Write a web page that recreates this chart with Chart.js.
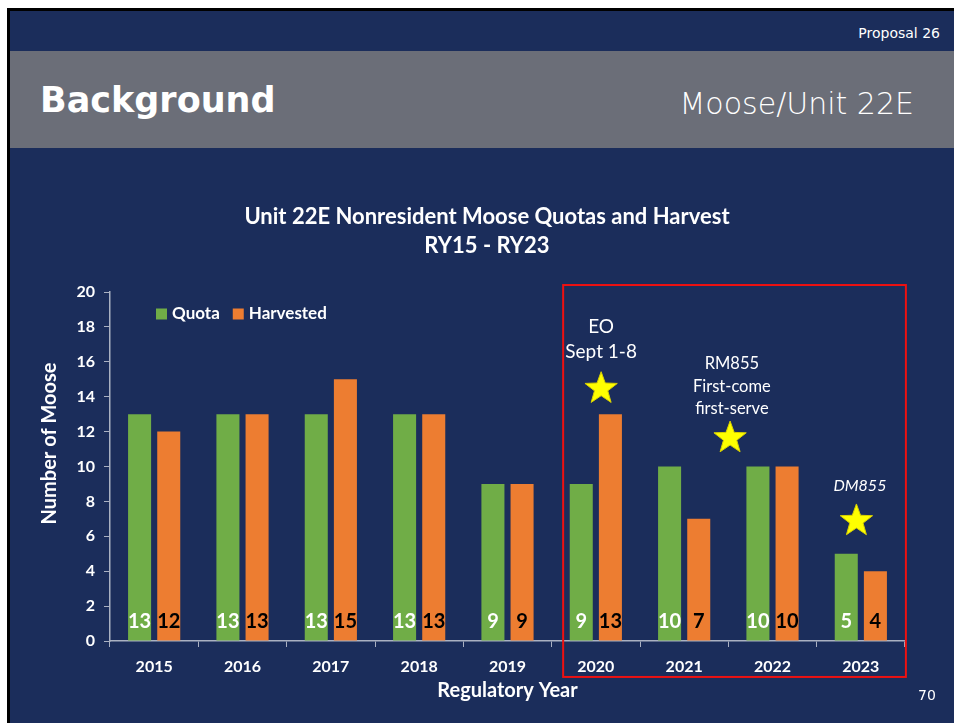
<!DOCTYPE html>
<html>
<head>
<meta charset="utf-8">
<title>Unit 22E Nonresident Moose Quotas and Harvest</title>
<script src="https://cdn.jsdelivr.net/npm/chart.js@4.4.1/dist/chart.umd.min.js"></script>
<style>
  html, body { margin: 0; padding: 0; background: #fff; }
  body { width: 954px; height: 723px; position: relative; overflow: hidden; font-family: "DejaVu Sans", sans-serif; }
  .slide { position: absolute; left: 7px; top: 8px; width: 947px; height: 715px; background: #1b2d5b; border-left: 3px solid #000; border-top: 3px solid #000; box-sizing: border-box; }
  .band { position: absolute; left: 10px; top: 51px; width: 944px; height: 97px; background: #6b6e78; }
  .proposal { position: absolute; right: 14px; top: 23px; font-size: 14px; line-height: 20px; color: #fff; }
  .heading { position: absolute; left: 40px; top: 80px; font-size: 35px; line-height: 40px; font-weight: bold; color: #fff; }
  .subject { position: absolute; right: 40px; top: 86px; font-size: 30px; line-height: 36px; font-weight: 200; color: #fff; }
  .page-no { position: absolute; left: 918px; top: 686px; font-size: 14px; line-height: 18px; color: #fff; }
  .chart-box { position: absolute; left: 10px; top: 150px; width: 944px; height: 573px; }
</style>
</head>
<body>
<div class="slide"></div>
<div class="band"></div>
<div class="proposal">Proposal 26</div>
<div class="heading">Background</div>
<div class="subject">Moose/Unit 22E</div>
<div class="chart-box"><canvas id="chart" width="944" height="573"></canvas></div>
<div class="page-no">70</div>

<script>
// Regulatory years and values
const years = ['2015', '2016', '2017', '2018', '2019', '2020', '2021', '2022', '2023'];
const quota = [13, 13, 13, 13, 9, 9, 10, 10, 5];
const harvested = [12, 13, 15, 13, 9, 13, 7, 10, 4];

const titleLines = ['Unit 22E Nonresident Moose Quotas and Harvest', 'RY15 - RY23'];
const yAxisTitle = 'Number of Moose';
const xAxisTitle = 'Regulatory Year';

// Annotations, in data space (x = category index, y = number of moose)
const starPoints = [
  { x: 5.06, y: 14.46 },
  { x: 6.52, y: 11.63 },
  { x: 7.95, y: 6.88 },
];
const notes = [
  { x: 5.06, y: 17.99, lines: ['EO', 'Sept 1-8'] },
  { x: 6.54, y: 15.87, lines: ['RM855', 'First-come', 'first-serve'] },
  { x: 7.99, y: 8.88, lines: ['DM855'] },
];
const highlightBox = { xMin: 4.63, xMax: 8.51, yMin: -2.06, yMax: 20.4 };

const FONT = 'Lato, "Open Sans", sans-serif';
const AXIS_COLOR = '#aab1c2';

Chart.defaults.font.family = FONT;
Chart.defaults.color = '#ffffff';

// look of each note: font size, line step, italic
const noteStyle = [
  { size: 19, step: 25, italic: false },
  { size: 16.5, step: 22.5, italic: false },
  { size: 16, step: 22, italic: true },
];

function drawStar(ctx, cx, cy, R, r) {
  ctx.beginPath();
  for (let k = 0; k < 10; k++) {
    const rad = k % 2 === 0 ? R : r;
    const a = -Math.PI / 2 + k * Math.PI / 5;
    ctx.lineTo(cx + rad * Math.cos(a), cy + rad * Math.sin(a));
  }
  ctx.closePath();
  ctx.fill();
  ctx.stroke();
}

// chart title centred on the slide, y-axis title a bit above centre
const titles = {
  id: 'titles',
  afterDraw(chart) {
    const { ctx, chartArea } = chart;
    ctx.save();
    ctx.fillStyle = '#ffffff';
    ctx.textAlign = 'center';
    ctx.textBaseline = 'middle';
    ctx.font = 'bold 22px ' + FONT;
    titleLines.forEach((line, i) => ctx.fillText(line, chart.width / 2 + 5, 67 + i * 29));

    ctx.translate(40, (chartArea.top + chartArea.bottom) / 2 - 23);
    ctx.rotate(-Math.PI / 2);
    ctx.font = 'bold 20px ' + FONT;
    ctx.fillText(yAxisTitle, 0, 0);
    ctx.restore();
  }
};

// numbers written at the foot of each bar
const valueLabels = {
  id: 'valueLabels',
  afterDatasetsDraw(chart) {
    const { ctx } = chart;
    const y0 = chart.scales.y.getPixelForValue(0);
    ctx.save();
    ctx.font = 'bold 20px ' + FONT;
    ctx.textAlign = 'center';
    ctx.textBaseline = 'middle';
    chart.data.datasets.forEach((ds, i) => {
      const meta = chart.getDatasetMeta(i);
      ctx.fillStyle = ds.labelColor;
      meta.data.forEach((bar, j) => {
        ctx.fillText(String(ds.data[j]), bar.x, y0 - 19);
      });
    });
    ctx.restore();
  }
};

// legend sitting inside the plot, top left
const insideLegend = {
  id: 'insideLegend',
  afterDraw(chart) {
    const { ctx, chartArea } = chart;
    let x = chartArea.left + 46;
    const y = chartArea.top + 22;
    ctx.save();
    ctx.font = 'bold 17px ' + FONT;
    ctx.textBaseline = 'middle';
    chart.data.datasets.forEach(ds => {
      ctx.fillStyle = ds.backgroundColor;
      ctx.fillRect(x, y - 5.5, 11, 11);
      ctx.fillStyle = '#ffffff';
      ctx.fillText(ds.label, x + 16, y);
      x += 16 + ctx.measureText(ds.label).width + 13;
    });
    ctx.restore();
  }
};

// red box, stars and notes
const annotations = {
  id: 'annotations',
  afterDraw(chart) {
    const { ctx, scales: { x: xs, y: ys } } = chart;
    ctx.save();

    const bx1 = xs.getPixelForValue(highlightBox.xMin);
    const bx2 = xs.getPixelForValue(highlightBox.xMax);
    const by1 = ys.getPixelForValue(highlightBox.yMax);
    const by2 = ys.getPixelForValue(highlightBox.yMin);
    ctx.strokeStyle = '#ee1111';
    ctx.lineWidth = 2;
    ctx.strokeRect(bx1, by1, bx2 - bx1, by2 - by1);

    ctx.fillStyle = '#ffff00';
    ctx.strokeStyle = '#d8d000';
    ctx.lineWidth = 1;
    starPoints.forEach(p => {
      drawStar(ctx, xs.getPixelForValue(p.x), ys.getPixelForValue(p.y), 17, 7);
    });

    ctx.fillStyle = '#ffffff';
    ctx.textAlign = 'center';
    ctx.textBaseline = 'middle';
    notes.forEach((n, i) => {
      const st = noteStyle[i];
      ctx.font = (st.italic ? 'italic ' : '') + st.size + 'px ' + FONT;
      const cx = xs.getPixelForValue(n.x);
      const cy = ys.getPixelForValue(n.y);
      n.lines.forEach((line, k) => ctx.fillText(line, cx, cy + k * st.step));
    });
    ctx.restore();
  }
};

new Chart(document.getElementById('chart'), {
  type: 'bar',
  data: {
    labels: years,
    datasets: [
      {
        label: 'Quota',
        data: quota,
        backgroundColor: '#70ad47',
        labelColor: '#ffffff',
        categoryPercentage: 0.66,
        barPercentage: 0.79,
      },
      {
        label: 'Harvested',
        data: harvested,
        backgroundColor: '#ed7d31',
        labelColor: '#000000',
        categoryPercentage: 0.66,
        barPercentage: 0.79,
      },
    ],
  },
  options: {
    responsive: false,
    animation: false,
    layout: { padding: { top: 142, right: 49, bottom: 0, left: 0 } },
    scales: {
      x: {
        offset: true,
        grid: { display: true, drawOnChartArea: false, drawTicks: true, tickLength: 6, color: AXIS_COLOR, offset: true },
        border: { display: true, color: AXIS_COLOR, width: 1.5 },
        ticks: { font: { size: 16, weight: 'bold' }, padding: 10, color: '#ffffff' },
        title: { display: true, text: xAxisTitle, font: { size: 20, weight: 'bold' }, padding: { top: 0, bottom: 20 }, color: '#ffffff' },
        afterFit(scale) { scale.height = 82; },
      },
      y: {
        min: 0,
        max: 20,
        grid: { display: true, drawOnChartArea: false, drawTicks: true, tickLength: 6, color: AXIS_COLOR },
        border: { display: true, color: AXIS_COLOR, width: 1.5 },
        ticks: { stepSize: 2, font: { size: 16, weight: 'bold' }, padding: 9, color: '#ffffff' },
        title: { display: false },
        afterFit(scale) { scale.width = 100; },
      },
    },
    plugins: {
      legend: { display: false },
      tooltip: { enabled: false },
      title: { display: false },
    },
  },
  plugins: [valueLabels, insideLegend, annotations, titles],
});
</script>
</body>
</html>
